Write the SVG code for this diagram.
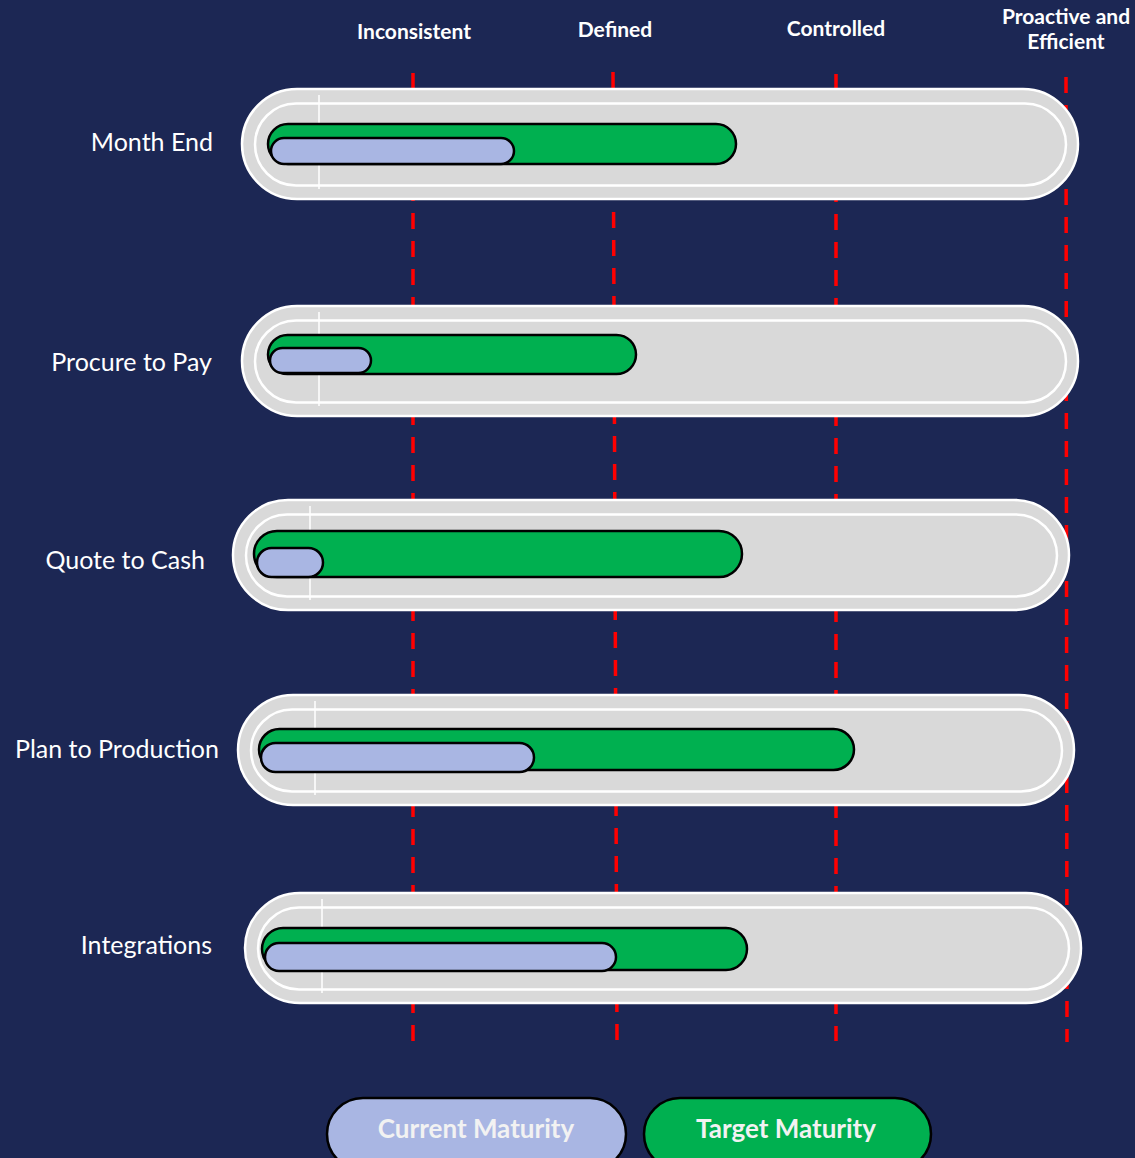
<svg xmlns="http://www.w3.org/2000/svg" width="1135" height="1158" viewBox="0 0 1135 1158">
<style>
.bg{fill:#1c2754}
.grid{stroke:#ff0000;stroke-width:3.5;stroke-dasharray:16 12;fill:none}
.outer{fill:#d9d9d9;stroke:#ffffff;stroke-width:2.5}
.inner{fill:none;stroke:#ffffff;stroke-width:2.5}
.tick{stroke:#ffffff;stroke-width:1.5}
.tgt{fill:#00b050;stroke:#000000;stroke-width:2.5}
.cur{fill:#a9b6e3;stroke:#000000;stroke-width:2.5}
.lbl{font-family:Lato,"Liberation Sans",sans-serif;font-size:25px;fill:#ffffff;text-anchor:end}
.hdr{font-family:Lato,"Liberation Sans",sans-serif;font-size:21px;font-weight:bold;fill:#ffffff;text-anchor:middle}
.leg{font-family:Lato,"Liberation Sans",sans-serif;font-size:26px;font-weight:bold;fill:#f2f2f2;text-anchor:middle}
</style>
<rect class="bg" x="0" y="0" width="1135" height="1158"/>
<g id="headers">
<text class="hdr" x="414" y="39">Inconsistent</text>
<text class="hdr" x="615" y="37">Defined</text>
<text class="hdr" x="836" y="36">Controlled</text>
<text class="hdr" x="1066" y="24">Proactive and</text>
<text class="hdr" x="1066" y="49">Efficient</text>
</g>
<g id="connectors">
<line class="grid" x1="413" y1="73" x2="413" y2="1041"/>
<line class="grid" x1="613" y1="72" x2="617" y2="1040"/>
<line class="grid" x1="836" y1="74" x2="836" y2="1041"/>
<line class="grid" x1="1066" y1="77" x2="1067" y2="1042"/>
</g>
<g id="month-end">
<rect class="outer" x="242" y="89" width="836" height="110" rx="55"/>
<rect class="inner" x="255" y="103.5" width="811" height="82" rx="41"/>
<line class="tick" x1="319" y1="95" x2="319" y2="189"/>
<rect class="tgt" x="268" y="124" width="468" height="40" rx="20"/>
<rect class="cur" x="271" y="138" width="243" height="26" rx="13"/>
<text class="lbl" x="213" y="151">Month End</text>
</g>
<g id="procure-to-pay">
<rect class="outer" x="242" y="306" width="836" height="110" rx="55"/>
<rect class="inner" x="255" y="320.5" width="811" height="82" rx="41"/>
<line class="tick" x1="319" y1="312" x2="319" y2="406"/>
<rect class="tgt" x="268" y="335" width="368" height="39" rx="19.5"/>
<rect class="cur" x="270" y="348" width="101" height="25" rx="12.5"/>
<text class="lbl" x="212" y="371">Procure to Pay</text>
</g>
<g id="quote-to-cash">
<rect class="outer" x="233" y="500" width="836" height="110" rx="55"/>
<rect class="inner" x="246" y="514.5" width="811" height="82" rx="41"/>
<line class="tick" x1="310" y1="506" x2="310" y2="600"/>
<rect class="tgt" x="254" y="531" width="488" height="46" rx="23"/>
<rect class="cur" x="257" y="548" width="66" height="29" rx="14.5"/>
<text class="lbl" x="205" y="569">Quote to Cash</text>
</g>
<g id="plan-to-production">
<rect class="outer" x="238" y="695" width="836" height="110" rx="55"/>
<rect class="inner" x="251" y="709.5" width="811" height="82" rx="41"/>
<line class="tick" x1="315" y1="701" x2="315" y2="795"/>
<rect class="tgt" x="259" y="729" width="595" height="41" rx="20.5"/>
<rect class="cur" x="261" y="743" width="273" height="29" rx="14.5"/>
<text class="lbl" x="219" y="758">Plan to Production</text>
</g>
<g id="integrations">
<rect class="outer" x="245" y="893" width="836" height="110" rx="55"/>
<rect class="inner" x="258" y="907.5" width="811" height="82" rx="41"/>
<line class="tick" x1="322" y1="899" x2="322" y2="993"/>
<rect class="tgt" x="262" y="928" width="485" height="42" rx="21"/>
<rect class="cur" x="265" y="943" width="351" height="28" rx="14"/>
<text class="lbl" x="212" y="954">Integrations</text>
</g>
<g id="legend-current">
<rect class="cur" x="327" y="1098" width="299" height="72" rx="36"/>
<text class="leg" x="476" y="1138">Current Maturity</text>
</g>
<g id="legend-target">
<rect class="tgt" x="644" y="1098" width="287" height="72" rx="36"/>
<text class="leg" x="786" y="1138">Target Maturity</text>
</g>
</svg>
